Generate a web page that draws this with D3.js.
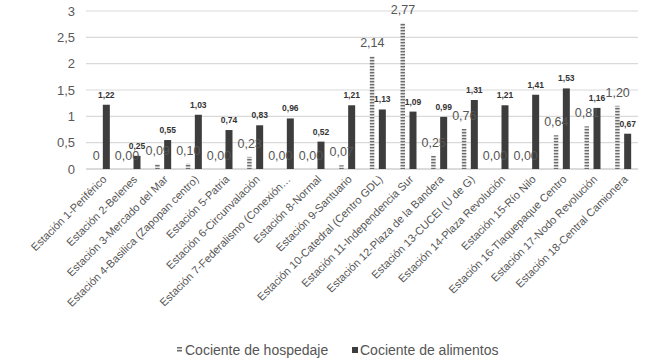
<!DOCTYPE html>
<html>
<head>
<meta charset="utf-8">
<script src="https://cdn.jsdelivr.net/npm/d3@7"></script>
<style>
  body { margin: 0; background: #fff; }
  svg { font-family: 'Liberation Sans', Arial, sans-serif; }
</style>
</head>
<body>
<svg id="chart"></svg>
<script>
const estaciones = [
  'Estación 1-Periférico', 'Estación 2-Belenes', 'Estación 3-Mercado del Mar',
  'Estación 4-Basilica (Zapopan centro)', 'Estación 5-Patria', 'Estación 6-Circunvalación',
  'Estación 7-Federalismo (Conexión…', 'Estación 8-Normal', 'Estación 9-Santuario',
  'Estación 10-Catedral (Centro GDL)', 'Estación 11-Independencia Sur', 'Estación 12-Plaza de la Bandera',
  'Estación 13-CUCEI (U de G)', 'Estación 14-Plaza Revolución', 'Estación 15-Río Nilo',
  'Estación 16-Tlaquepaque Centro', 'Estación 17-Nodo Revolución', 'Estación 18-Central Camionera'
]
const hospedaje = [0, 0.00, 0.09, 0.10, 0.00, 0.23, 0.00, 0.00, 0.07, 2.14, 2.77, 0.25, 0.76, 0.00, 0.00, 0.64, 0.81, 1.20]
const hospedajeLabels = ['0', '0,00', '0,09', '0,10', '0,00', '0,23', '0,00', '0,00', '0,07', '2,14', '2,77', '0,25', '0,76', '0,00', '0,00', '0,64', '0,81', '1,20']
const alimentos = [1.22, 0.25, 0.55, 1.03, 0.74, 0.83, 0.96, 0.52, 1.21, 1.13, 1.09, 0.99, 1.31, 1.21, 1.41, 1.53, 1.16, 0.67]
const yTicks = [0, 0.5, 1, 1.5, 2, 2.5, 3]

const fullWidth = 650
const fullHeight = 364
const plot = { left: 86, right: 638, top: 11, bottom: 169 }
const comma = v => String(v).replace('.', ',')
const fmt2 = v => d3.format('.2f')(v).replace('.', ',')

const svg = d3.select('#chart')
  .attr('width', fullWidth)
  .attr('height', fullHeight)

// hatch pattern for hospedaje bars
const pattern = svg.append('defs').append('pattern')
  .attr('id', 'hatch')
  .attr('patternUnits', 'userSpaceOnUse')
  .attr('width', 6)
  .attr('height', 3)
pattern.append('rect').attr('width', 6).attr('height', 3).attr('fill', '#e4e4e4')
pattern.append('rect').attr('width', 6).attr('height', 1.4).attr('fill', '#6e6e6e')

const xScale = d3.scaleBand()
  .domain(estaciones)
  .range([plot.left, plot.right])

const yScale = d3.scaleLinear()
  .domain([0, 3])
  .range([plot.bottom, plot.top])

// gridlines
svg.append('g')
  .selectAll('line')
  .data(yTicks)
  .enter().append('line')
    .attr('x1', plot.left)
    .attr('x2', plot.right)
    .attr('y1', d => yScale(d))
    .attr('y2', d => yScale(d))
    .attr('stroke', d => d === 0 ? '#cfcfcf' : '#d9d9d9')
    .attr('stroke-width', d => d === 0 ? 1.5 : 1.2)

// y axis labels
const yAxis = d3.axisLeft(yScale)
  .tickValues(yTicks)
  .tickFormat(comma)
  .tickSize(0)
  .tickPadding(0)
const yAxisGroup = svg.append('g')
  .attr('transform', `translate(75, 0)`)
  .call(yAxis)
yAxisGroup.select('.domain').remove()
yAxisGroup.selectAll('text')
  .attr('font-size', '13px')
  .attr('fill', '#595959')
  .attr('font-family', 'Liberation Sans, Arial, sans-serif')

const center = d => xScale(d) + xScale.bandwidth() / 2

// hospedaje bars
svg.append('g')
  .selectAll('rect')
  .data(estaciones)
  .enter().append('rect')
    .attr('x', (d, i) => center(d) - 7.5)
    .attr('width', 4.5)
    .attr('y', (d, i) => yScale(hospedaje[i]))
    .attr('height', (d, i) => plot.bottom - yScale(hospedaje[i]))
    .attr('fill', 'url(#hatch)')

// alimentos bars
svg.append('g')
  .selectAll('rect')
  .data(estaciones)
  .enter().append('rect')
    .attr('x', (d, i) => center(d) + 1.5)
    .attr('width', 7)
    .attr('y', (d, i) => yScale(alimentos[i]))
    .attr('height', (d, i) => plot.bottom - yScale(alimentos[i]))
    .attr('fill', '#3d3d3d')

// hospedaje labels
svg.append('g')
  .selectAll('text')
  .data(estaciones)
  .enter().append('text')
    .attr('x', (d, i) => center(d) - 5)
    .attr('y', (d, i) => yScale(hospedaje[i]) - 9)
    .attr('text-anchor', 'middle')
    .attr('font-size', '12.5px')
    .attr('fill', '#555')
    .text((d, i) => hospedajeLabels[i])

// alimentos labels
svg.append('g')
  .selectAll('text')
  .data(estaciones)
  .enter().append('text')
    .attr('x', (d, i) => center(d) + 5)
    .attr('y', (d, i) => yScale(alimentos[i]) - 7)
    .attr('text-anchor', 'middle')
    .attr('font-size', '8.5px')
    .attr('font-weight', 'bold')
    .attr('fill', '#333')
    .text((d, i) => fmt2(alimentos[i]))

// category labels
svg.append('g')
  .selectAll('text')
  .data(estaciones)
  .enter().append('text')
    .attr('transform', d => `translate(${center(d) + 6}, 180) rotate(-45)`)
    .attr('text-anchor', 'end')
    .attr('font-size', '11px')
    .attr('fill', '#555')
    .text(d => d)

// legend
const legend = svg.append('g')
  .attr('transform', 'translate(0, 350)')
legend.append('rect')
  .attr('x', 177).attr('y', -3).attr('width', 5).attr('height', 5)
  .attr('fill', 'url(#hatch)')
legend.append('text')
  .attr('x', 185).attr('y', 4.5)
  .attr('font-size', '14px').attr('fill', '#555')
  .text('Cociente de hospedaje')
legend.append('rect')
  .attr('x', 352).attr('y', -3).attr('width', 6).attr('height', 6)
  .attr('fill', '#3d3d3d')
legend.append('text')
  .attr('x', 360).attr('y', 4.5)
  .attr('font-size', '14px').attr('fill', '#555')
  .text('Cociente de alimentos')
</script>
</body>
</html>
